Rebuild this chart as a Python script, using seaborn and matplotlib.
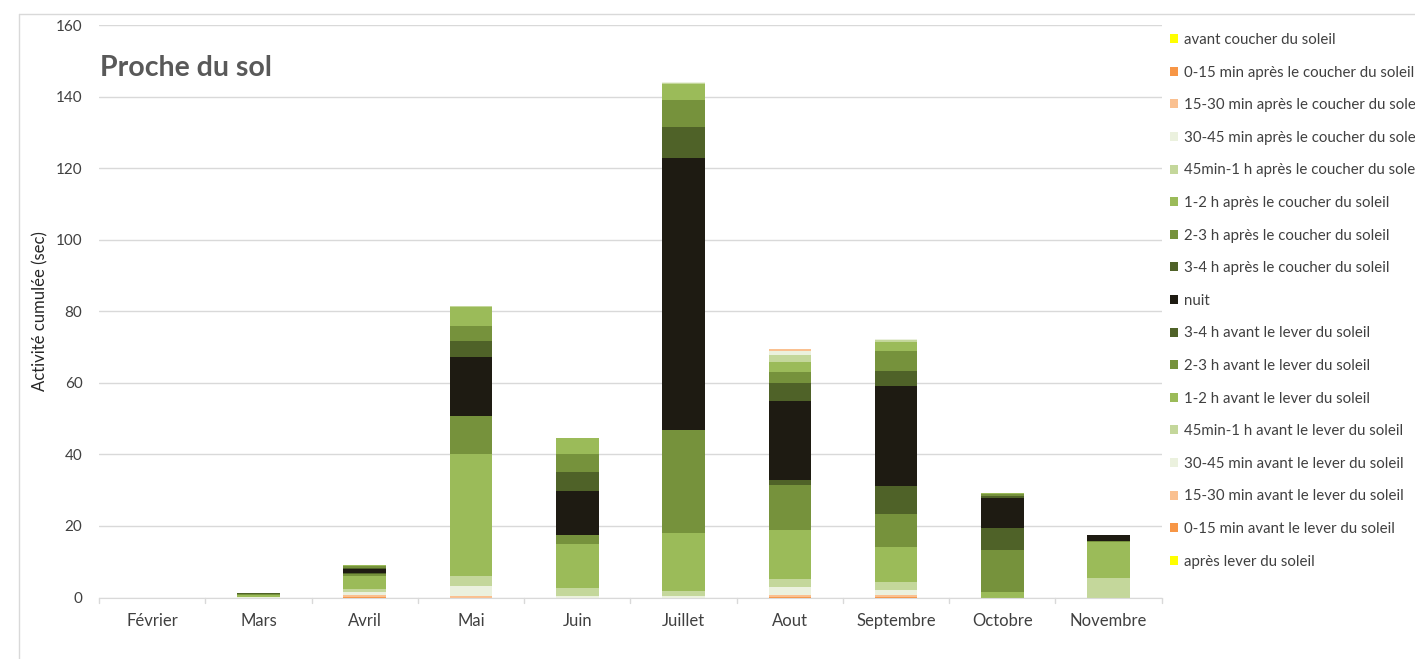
import pandas as pd
import matplotlib.pyplot as plt
import seaborn as sns
from matplotlib.patches import Patch
from matplotlib.lines import Line2D

# ### Data
mois = ["Février", "Mars", "Avril", "Mai", "Juin", "Juillet", "Aout",
        "Septembre", "Octobre", "Novembre"]

# series listed from top of the stack (legend order) to bottom
periodes = [
    "avant coucher du soleil",
    "0-15 min après le coucher du soleil",
    "15-30 min après le coucher du soleil",
    "30-45 min après le coucher du soleil",
    "45min-1 h après le coucher du soleil",
    "1-2 h après le coucher du soleil",
    "2-3 h après le coucher du soleil",
    "3-4 h après le coucher du soleil",
    "nuit",
    "3-4 h avant le lever du soleil",
    "2-3 h avant le lever du soleil",
    "1-2 h avant le lever du soleil",
    "45min-1 h avant le lever du soleil",
    "30-45 min avant le lever du soleil",
    "15-30 min avant le lever du soleil",
    "0-15 min avant le lever du soleil",
    "après lever du soleil",
]

avant_coucher = [0, 0, 0, 0, 0, 0, 0, 0, 0, 0]
apres_coucher_0_15 = [0, 0, 0, 0, 0, 0, 0, 0, 0, 0]
apres_coucher_15_30 = [0, 0, 0, 0, 0, 0, 0.4, 0, 0, 0]
apres_coucher_30_45 = [0, 0, 0, 0, 0, 0.2, 1.3, 0.3, 0, 0]
apres_coucher_45_60 = [0, 0, 0, 0.2, 0, 0.4, 1.8, 0.6, 0, 0]
apres_coucher_1_2 = [0, 0, 0.3, 5.4, 4.5, 4.4, 2.8, 2.5, 0.3, 0]
apres_coucher_2_3 = [0, 0, 0.6, 4.0, 5.0, 7.7, 3.2, 5.6, 0.3, 0]
apres_coucher_3_4 = [0, 0, 0.3, 4.7, 5.1, 8.6, 4.9, 4.2, 0.6, 0]
nuit = [0, 0, 1.1, 16.3, 12.3, 76.0, 22.1, 27.8, 8.6, 1.9]
avant_lever_3_4 = [0, 0.3, 0.2, 0, 0, 0, 1.4, 8.0, 5.9, 0]
avant_lever_2_3 = [0, 0.3, 0.8, 10.8, 2.7, 28.7, 12.6, 9.2, 11.8, 0.2]
avant_lever_1_2 = [0, 0.4, 3.4, 33.9, 12.3, 16.2, 13.8, 9.8, 1.6, 10.0]
avant_lever_45_60 = [0, 0.1, 0.9, 3.0, 2.1, 1.4, 2.3, 2.3, 0, 5.5]
avant_lever_30_45 = [0, 0.1, 0.9, 2.6, 0.5, 0.5, 2.2, 1.4, 0, 0]
avant_lever_15_30 = [0, 0, 0.5, 0.5, 0, 0, 0.4, 0.4, 0, 0]
avant_lever_0_15 = [0, 0, 0.2, 0, 0, 0, 0.2, 0.2, 0, 0]
apres_lever = [0, 0, 0, 0, 0, 0, 0, 0, 0, 0]

couleurs = ["#FFFF00", "#F79646", "#FAC090", "#EBF1DE", "#C4D79B",
            "#9BBB59", "#76923C", "#4F6228", "#1E1B12",
            "#4F6228", "#76923C", "#9BBB59", "#C4D79B", "#EBF1DE",
            "#FAC090", "#F79646", "#FFFF00"]

series = [avant_coucher, apres_coucher_0_15, apres_coucher_15_30,
          apres_coucher_30_45, apres_coucher_45_60, apres_coucher_1_2,
          apres_coucher_2_3, apres_coucher_3_4, nuit, avant_lever_3_4,
          avant_lever_2_3, avant_lever_1_2, avant_lever_45_60,
          avant_lever_30_45, avant_lever_15_30, avant_lever_0_15, apres_lever]

# long format table for seaborn
rows = []
for p, vals in zip(periodes, series):
    for m, v in zip(mois, vals):
        rows.append({"mois": m, "periode": p, "valeur": v})
df = pd.DataFrame(rows)
df["mois"] = pd.Categorical(df["mois"], categories=mois, ordered=True)

# ### Figure
sns.set_style("white")
plt.rcParams["font.family"] = ["Lato", "DejaVu Sans"]

fig = plt.figure(figsize=(14.15, 6.59), dpi=100)
ax = fig.add_axes([0.070, 0.0933, 0.751, 0.8687])

# stacked bars: seaborn puts the first hue level on top of the stack
sns.histplot(data=df, x="mois", weights="valeur", hue="periode",
             hue_order=periodes, palette=couleurs, multiple="stack",
             discrete=True, shrink=0.4, alpha=1, linewidth=0,
             legend=False, ax=ax)

ax.set_xlim(-0.5, len(mois) - 0.5)
ax.set_ylim(0, 160)
ax.set_yticks(range(0, 161, 20))
ax.set_xticks(range(len(mois)))
ax.set_xticklabels(mois)
ax.grid(axis="y", color="#D9D9D9", linewidth=1)
ax.set_axisbelow(True)
for s in ["top", "right", "left"]:
    ax.spines[s].set_visible(False)
ax.spines["bottom"].set_color("#D9D9D9")
ax.tick_params(axis="x", labelsize=12, colors="#404040", length=0, pad=11)
ax.tick_params(axis="y", labelsize=11, colors="#404040", length=0, pad=12)
ax.set_xlabel("")
ax.set_ylabel("Activité cumulée (sec)", fontsize=12, color="#262626",
              labelpad=5)

# small ticks between categories, Excel style
for b in range(len(mois) + 1):
    ax.plot([b - 0.5, b - 0.5], [0, -1.6], color="#D9D9D9", lw=1,
            clip_on=False)

ax.text(0.001, 0.925, "Proche du sol", transform=ax.transAxes,
        fontsize=20.5, fontweight="bold", color="#595959", va="center")

# legend on the right, clipped by the figure edge like the original
handles = [Patch(facecolor=c, edgecolor="none") for c in couleurs]
fig.legend(handles, periodes, loc="upper left",
           bbox_to_anchor=(1170 / 1415, 1 - 33 / 659), frameon=False,
           fontsize=10.8, handlelength=0.55, handleheight=0.55,
           handletextpad=0.4, labelspacing=1.24, borderpad=0,
           borderaxespad=0, labelcolor="#404040")

# outer chart frame (top and left edges visible)
fig.add_artist(Line2D([19 / 1415, 1], [1 - 14 / 659, 1 - 14 / 659],
                      transform=fig.transFigure, color="#D9D9D9", lw=1))
fig.add_artist(Line2D([19 / 1415, 19 / 1415], [0, 1 - 14 / 659],
                      transform=fig.transFigure, color="#D9D9D9", lw=1))

fig.savefig("out.png", dpi=100)
